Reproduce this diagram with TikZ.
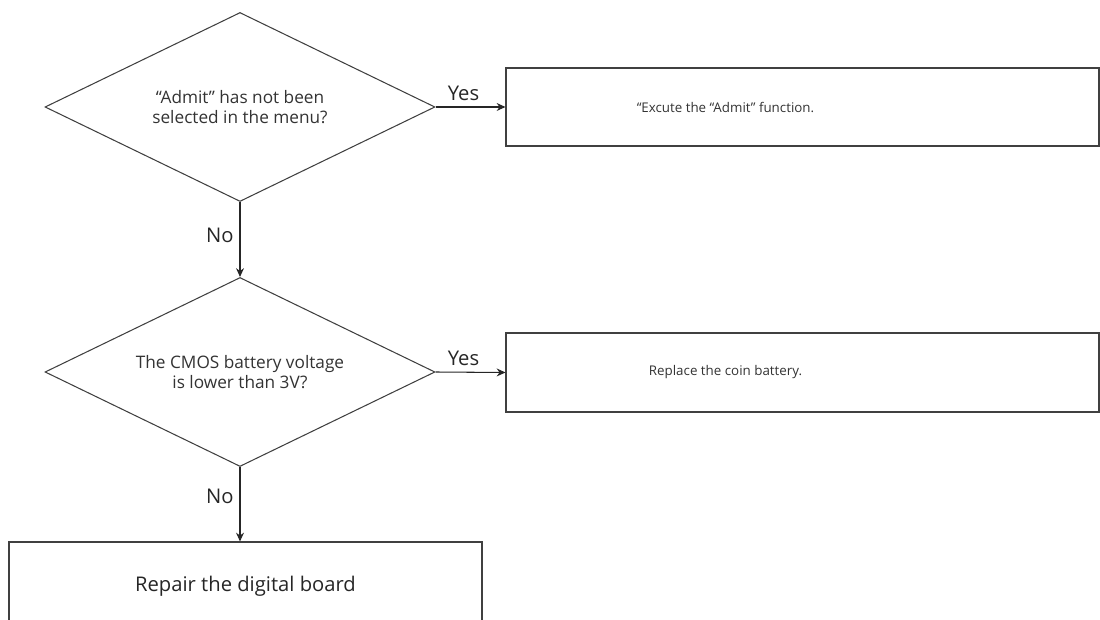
\documentclass[tikz,border=0pt]{standalone}
\usepackage{fontspec}
\setmainfont{Open Sans}
\usetikzlibrary{shapes.geometric,arrows.meta}

\begin{document}
\begin{tikzpicture}[
    decision/.style={diamond, draw=black!75, line width=0.6pt, aspect=2.06,
      minimum width=7.8cm, minimum height=3.78cm, inner sep=0pt,
      align=center, text=black!80, font=\fontsize{9.8}{11}\selectfont},
    process/.style={rectangle, draw=black!75, line width=0.6pt, inner sep=0pt},
    boxtext/.style={text=black!80, font=\fontsize{7.6}{9}\selectfont},
    lbl/.style={text=black!85, font=\fontsize{11.5}{13}\selectfont},
    flow/.style={-{Stealth[length=5pt,width=4.5pt]}, draw=black!85, line width=0.6pt}
  ]
  \useasboundingbox (0,0) rectangle (22,12.38);

  % decisions
  \node[decision] (q1) at (4.8,10.24) {“Admit” has not been\\selected in the menu?};
  \node[decision] (q2) at (4.8,4.94) {The CMOS battery voltage\\is lower than 3V?};

  % actions
  \node[process, minimum width=11.86cm, minimum height=1.56cm] (act1) at (16.05,10.24) {};
  \node[boxtext] at ([xshift=4.4cm]act1.west) {“Excute the “Admit” function.};
  \node[process, minimum width=11.86cm, minimum height=1.58cm] (act2) at (16.05,4.93) {};
  \node[boxtext] at ([xshift=4.4cm]act2.west) {Replace the coin battery.};
  \node[process, minimum width=9.46cm, minimum height=1.76cm, lbl] (fix) at (4.91,0.66) {Repair the digital board};

  % connectors
  \draw[flow] (q1.east) -- node[above, pos=0.4, lbl] {Yes} (act1.west);
  \draw[flow] (q2.east) -- node[above, pos=0.4, lbl] {Yes} (act2.west);
  \draw[flow] (q1.south) -- node[left, pos=0.45, lbl] {No} (q2.north);
  \draw[flow] (q2.south) -- node[left, pos=0.4, lbl] {No} (q2.south |- fix.north);
\end{tikzpicture}
\end{document}
